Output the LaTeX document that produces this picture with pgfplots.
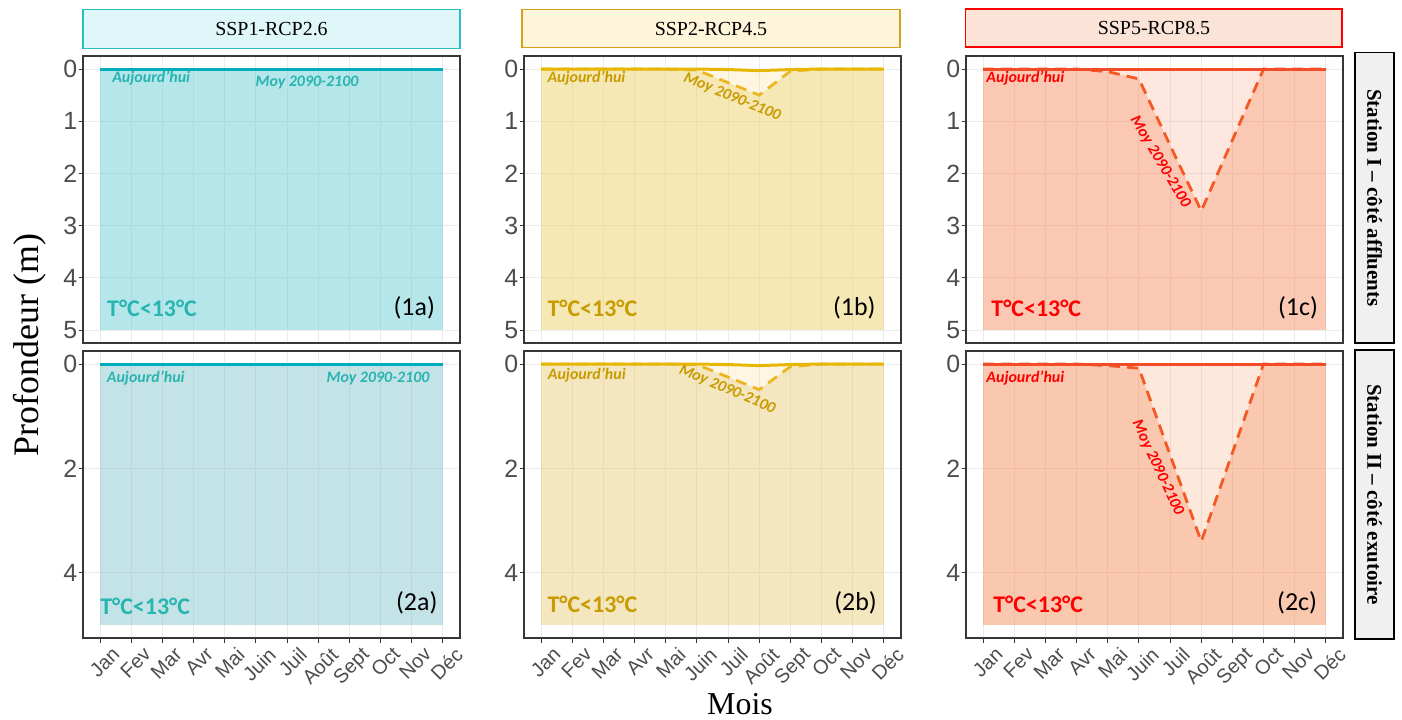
\documentclass[border=0pt]{standalone}
\usepackage{fontspec}
\setmainfont{Liberation Serif}
\newfontfamily\arial{Liberation Sans}
\newfontfamily\carlito{Carlito}
\usepackage{pgfplots}
\pgfplotsset{compat=1.18}
\newcommand\fs[1]{\fontsize{#1}{#1}\selectfont}

\definecolor{gridc}{RGB}{235,235,235}
\definecolor{framec}{RGB}{55,55,55}
\definecolor{tickc}{RGB}{77,77,77}
% SSP1
\definecolor{aL}{RGB}{0,172,190}
\definecolor{aT}{RGB}{40,180,176}
\definecolor{aTopA}{RGB}{135,211,215}
\definecolor{aTopB}{RGB}{99,204,211}
\definecolor{aBotA}{RGB}{175,211,215}
\definecolor{aBotB}{RGB}{126,195,202}
\definecolor{aStripF}{RGB}{224,247,250}
\definecolor{aStripD}{RGB}{43,190,192}
% SSP2
\definecolor{bL}{RGB}{230,182,0}
\definecolor{bD}{RGB}{236,182,35}
\definecolor{bT}{RGB}{200,155,0}
\definecolor{bTopA}{RGB}{251,219,131}
\definecolor{bTopB}{RGB}{231,206,101}
\definecolor{bBotA}{RGB}{251,219,139}
\definecolor{bBotB}{RGB}{225,200,123}
\definecolor{bStripF}{RGB}{255,245,218}
\definecolor{bStripD}{RGB}{212,162,26}
% SSP5
\definecolor{cL}{RGB}{242,75,40}
\definecolor{cD}{RGB}{246,88,36}
\definecolor{cT}{RGB}{255,0,0}
\definecolor{cTopA}{RGB}{247,159,123}
\definecolor{cTopB}{RGB}{247,142,102}
\definecolor{cBotA}{RGB}{247,163,115}
\definecolor{cBotB}{RGB}{244,141,91}
\definecolor{cStripF}{RGB}{251,227,215}
\definecolor{cStripD}{RGB}{255,0,0}
\definecolor{rStripF}{RGB}{240,240,240}

\pgfplotsset{
  panel/.style={
    scale only axis, width=377bp, height=287bp,
    xmin=0.45, xmax=12.55, ymin=-0.25, ymax=5.25, y dir=reverse,
    xtick={1,...,12}, xtick pos=bottom, ytick pos=left,
    grid=major, major grid style={draw=gridc, line width=0.9bp},
    axis line style={draw=framec, line width=1.2bp},
    tick align=outside, major tick length=4.5bp,
    tick style={draw=framec, line width=0.9bp},
    /pgf/number format/assume math mode=true,
    yticklabel style={font=\arial\fs{25}, text=tickc, inner sep=1bp},
  },
  toprow/.style={ytick={0,1,2,3,4,5}, xticklabels={}, xtick style={draw=none}},
  botrow/.style={ytick={0,2,4},
    xticklabels={Jan,Fev,Mar,Avr,Mai,Juin,Juil,Août,Sept,Oct,Nov,Déc},
    xticklabel style={font=\arial\fs{20}, text=tickc, xshift=11bp, yshift=-2bp, rotate=45, anchor=north east, inner sep=1bp}},
  solidline/.style={line width=3bp},
  dashline/.style={line width=2.8bp, dash pattern=on 11bp off 7bp},
}
\tikzset{
  aujo/.style={inner sep=0pt, font=\carlito\bfseries\itshape\fs{16}},
  tlab/.style={inner sep=0pt, anchor=west, font=\carlito\bfseries\fs{24}},
  plab/.style={inner sep=0pt, anchor=east, font=\carlito\fs{26}, text=black},
}

\begin{document}
\begin{tikzpicture}
\useasboundingbox (0bp,0bp) rectangle (1402bp,720bp);

% ---------- (1a)
\begin{axis}[panel, toprow, at={(83bp,664bp)}, anchor=north west]
\addplot[draw=none, fill=aTopA, fill opacity=0.25] coordinates {(1,0)(2,0)(3,0)(4,0)(5,0)(6,0)(7,0)(8,0)(9,0)(10,0)(11,0)(12,0)(12,5)(1,5)};
\addplot[draw=none, fill=aTopB, fill opacity=0.35] coordinates {(1,0)(2,0)(3,0)(4,0)(5,0)(6,0)(7,0)(8,0)(9,0)(10,0)(11,0)(12,0)(12,5)(1,5)};
\addplot[draw=aL, dashline] coordinates {(1,0)(2,0)(3,0)(4,0)(5,0)(6,0)(7,0)(8,0)(9,0)(10,0)(11,0)(12,0)};
\addplot[draw=aL, solidline] coordinates {(1,0)(2,0)(3,0)(4,0)(5,0)(6,0)(7,0)(8,0)(9,0)(10,0)(11,0)(12,0)};
\node[aujo, anchor=west, text=aT] at (axis cs:1.385,0.18) {Aujourd’hui};
\node[aujo, text=aT] at (axis cs:7.64,0.25) {Moy 2090-2100};
\node[tlab, text=aT] at (axis cs:1.22,4.58) {T°C<13°C};
\node[plab] at (axis cs:11.75,4.58) {(1a)};
\end{axis}

% ---------- (1b)
\begin{axis}[panel, toprow, at={(524bp,664bp)}, anchor=north west]
\addplot[draw=none, fill=bTopA, fill opacity=0.25] coordinates {(1,0)(2,0)(3,0)(4,0)(5,0)(6,0)(7,0.01)(8,0.03)(9,0.01)(10,0)(11,0)(12,0)(12,5)(1,5)};
\addplot[draw=none, fill=bTopB, fill opacity=0.35] coordinates {(1,0)(2,0)(3,0)(4,0)(5,0)(6,0.02)(7,0.26)(8,0.5)(9,0.04)(10,0)(11,0)(12,0)(12,5)(1,5)};
\addplot[draw=bD, dashline] coordinates {(1,0)(2,0)(3,0)(4,0)(5,0)(6,0.02)(7,0.26)(8,0.5)(9,0.04)(10,0)(11,0)(12,0)};
\addplot[draw=bL, solidline] coordinates {(1,0)(2,0)(3,0)(4,0)(5,0)(6,0)(7,0.01)(8,0.03)(9,0.01)(10,0)(11,0)(12,0)};
\node[aujo, anchor=west, text=bT] at (axis cs:1.2,0.18) {Aujourd’hui};
\node[aujo, text=bT, rotate=-22] at (axis cs:7.13,0.54) {Moy 2090-2100};
\node[tlab, text=bT] at (axis cs:1.2,4.58) {T°C<13°C};
\node[plab] at (axis cs:11.74,4.58) {(1b)};
\end{axis}

% ---------- (1c)
\begin{axis}[panel, toprow, at={(966bp,664bp)}, anchor=north west]
\addplot[draw=none, fill=cTopA, fill opacity=0.25] coordinates {(1,0)(2,0)(3,0)(4,0)(5,0)(6,0)(7,0)(8,0)(9,0)(10,0)(11,0)(12,0)(12,5)(1,5)};
\addplot[draw=none, fill=cTopB, fill opacity=0.35] coordinates {(1,0)(2,0)(3,0)(4,0)(5,0.05)(6,0.19)(7,1.46)(8,2.72)(9,1.36)(10,0)(11,0)(12,0)(12,5)(1,5)};
\addplot[draw=cD, dashline] coordinates {(1,0)(2,0)(3,0)(4,0)(5,0.05)(6,0.19)(7,1.46)(8,2.72)(9,1.36)(10,0)(11,0)(12,0)};
\addplot[draw=cL, solidline] coordinates {(1,0)(2,0)(3,0)(4,0)(5,0)(6,0)(7,0)(8,0)(9,0)(10,0)(11,0)(12,0)};
\node[aujo, anchor=west, text=cT] at (axis cs:1.1,0.18) {Aujourd’hui};
\node[aujo, text=cT, rotate=-59] at (axis cs:6.68,1.78) {Moy 2090-2100};
\node[tlab, text=cT] at (axis cs:1.26,4.58) {T°C<13°C};
\node[plab] at (axis cs:11.75,4.58) {(1c)};
\end{axis}

% ---------- (2a)
\begin{axis}[panel, botrow, at={(83bp,369bp)}, anchor=north west]
\addplot[draw=none, fill=aBotA, fill opacity=0.25] coordinates {(1,0)(2,0)(3,0)(4,0)(5,0)(6,0)(7,0)(8,0)(9,0)(10,0)(11,0)(12,0)(12,5)(1,5)};
\addplot[draw=none, fill=aBotB, fill opacity=0.35] coordinates {(1,0)(2,0)(3,0)(4,0)(5,0)(6,0)(7,0)(8,0)(9,0)(10,0)(11,0)(12,0)(12,5)(1,5)};
\addplot[draw=aL, dashline] coordinates {(1,0)(2,0)(3,0)(4,0)(5,0)(6,0)(7,0)(8,0)(9,0)(10,0)(11,0)(12,0)};
\addplot[draw=aL, solidline] coordinates {(1,0)(2,0)(3,0)(4,0)(5,0)(6,0)(7,0)(8,0)(9,0)(10,0)(11,0)(12,0)};
\node[aujo, anchor=west, text=aT] at (axis cs:1.21,0.27) {Aujourd’hui};
\node[aujo, text=aT] at (axis cs:9.92,0.27) {Moy 2090-2100};
\node[tlab, text=aT] at (axis cs:1.0,4.65) {T°C<13°C};
\node[plab] at (axis cs:11.83,4.57) {(2a)};
\end{axis}

% ---------- (2b)
\begin{axis}[panel, botrow, at={(524bp,369bp)}, anchor=north west]
\addplot[draw=none, fill=bBotA, fill opacity=0.25] coordinates {(1,0)(2,0)(3,0)(4,0)(5,0)(6,0)(7,0.01)(8,0.03)(9,0.01)(10,0)(11,0)(12,0)(12,5)(1,5)};
\addplot[draw=none, fill=bBotB, fill opacity=0.35] coordinates {(1,0)(2,0)(3,0)(4,0)(5,0)(6,0.01)(7,0.25)(8,0.49)(9,0.05)(10,0)(11,0)(12,0)(12,5)(1,5)};
\addplot[draw=bD, dashline] coordinates {(1,0)(2,0)(3,0)(4,0)(5,0)(6,0.01)(7,0.25)(8,0.49)(9,0.05)(10,0)(11,0)(12,0)};
\addplot[draw=bL, solidline] coordinates {(1,0)(2,0)(3,0)(4,0)(5,0)(6,0)(7,0.01)(8,0.03)(9,0.01)(10,0)(11,0)(12,0)};
\node[aujo, anchor=west, text=bT] at (axis cs:1.21,0.22) {Aujourd’hui};
\node[aujo, text=bT, rotate=-23] at (axis cs:6.97,0.49) {Moy 2090-2100};
\node[tlab, text=bT] at (axis cs:1.2,4.6) {T°C<13°C};
\node[plab] at (axis cs:11.78,4.57) {(2b)};
\end{axis}

% ---------- (2c)
\begin{axis}[panel, botrow, at={(966bp,369bp)}, anchor=north west]
\addplot[draw=none, fill=cBotA, fill opacity=0.25] coordinates {(1,0)(2,0)(3,0)(4,0)(5,0)(6,0)(7,0)(8,0)(9,0)(10,0)(11,0)(12,0)(12,5)(1,5)};
\addplot[draw=none, fill=cBotB, fill opacity=0.35] coordinates {(1,0)(2,0)(3,0)(4,0)(5,0.03)(6,0.08)(7,1.74)(8,3.4)(9,1.7)(10,0)(11,0)(12,0)(12,5)(1,5)};
\addplot[draw=cD, dashline] coordinates {(1,0)(2,0)(3,0)(4,0)(5,0.03)(6,0.08)(7,1.74)(8,3.4)(9,1.7)(10,0)(11,0)(12,0)};
\addplot[draw=cL, solidline] coordinates {(1,0)(2,0)(3,0)(4,0)(5,0)(6,0)(7,0)(8,0)(9,0)(10,0)(11,0)(12,0)};
\node[aujo, anchor=west, text=cT] at (axis cs:1.1,0.27) {Aujourd’hui};
\node[aujo, text=cT, rotate=-65] at (axis cs:6.6,1.99) {Moy 2090-2100};
\node[tlab, text=cT] at (axis cs:1.32,4.6) {T°C<13°C};
\node[plab] at (axis cs:11.72,4.57) {(2c)};
\end{axis}

% ---------- strips
\draw[fill=aStripF, draw=aStripD, line width=1.3bp] (83bp,671.7bp) rectangle (460bp,710.3bp);
\node[font=\fs{20}] at (271.5bp,691bp) {SSP1-RCP2.6};
\draw[fill=bStripF, draw=bStripD, line width=1.3bp] (522bp,672.5bp) rectangle (900bp,710.3bp);
\node[font=\fs{20}] at (711bp,691.4bp) {SSP2-RCP4.5};
\draw[fill=cStripF, draw=cStripD, line width=1.3bp] (965.7bp,673bp) rectangle (1342bp,711bp);
\node[font=\fs{20}] at (1154bp,692bp) {SSP5-RCP8.5};

\draw[fill=rStripF, draw=black, line width=1.3bp] (1355bp,377bp) rectangle (1394bp,667.3bp);
\node[font=\bfseries\fs{21}, rotate=-90] at (1374.5bp,522bp) {Station I – côté affluents};
\draw[fill=rStripF, draw=black, line width=1.3bp] (1355bp,81bp) rectangle (1394bp,370bp);
\node[font=\bfseries\fs{21}, rotate=-90] at (1374.5bp,225.5bp) {Station II – côté exutoire};

% ---------- axis titles
\node[font=\fs{36}, rotate=90, anchor=base] at (38bp,375bp) {Profondeur (m)};
\node[font=\fs{32}, anchor=base] at (740bp,6bp) {Mois};
\end{tikzpicture}
\end{document}
